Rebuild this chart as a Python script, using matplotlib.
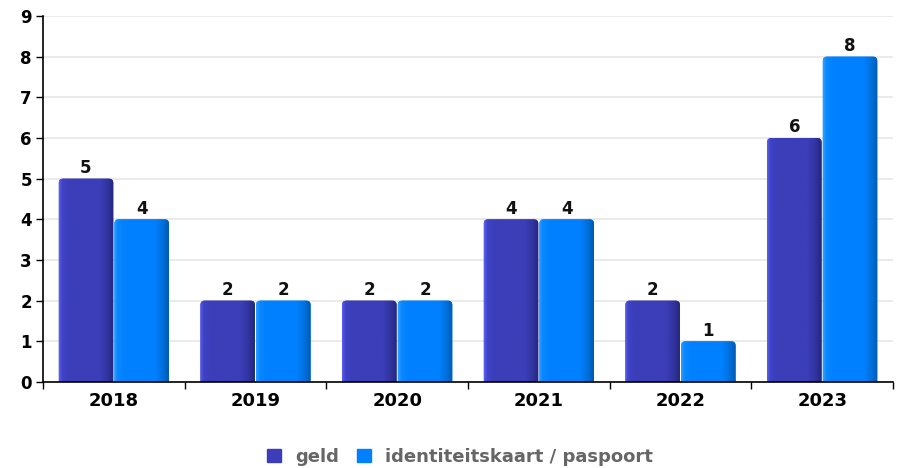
import matplotlib
matplotlib.use("Agg")
import matplotlib.pyplot as plt
import numpy as np
from matplotlib.patches import Rectangle, FancyBboxPatch
from matplotlib.colors import LinearSegmentedColormap

years = ["2018", "2019", "2020", "2021", "2022", "2023"]
geld = [5, 2, 2, 4, 2, 6]
identiteit = [4, 2, 2, 4, 1, 8]
series_names = ["geld", "identiteitskaart / paspoort"]
colors = ["#3b3eb8", "#0080ff"]
shades = [
    ["#5a5df5", "#3f42c4", "#3b3eb8", "#3b3eb8", "#30329c", "#25277a"],
    ["#2aa0ff", "#0a88ff", "#0080ff", "#0080ff", "#006ed8", "#0058b0"],
]

fig = plt.figure(figsize=(9.01, 4.68), dpi=100)
ax = fig.add_axes([43 / 901, 86 / 468, 850 / 901, 366 / 468])

ax.set_xlim(-0.5, len(years) - 0.5)
ax.set_ylim(0, 9)

x = np.arange(len(years))
w = 0.385
gap = 0.004

# horizontal shading profile across a bar
profile_pos = [0.0, 0.06, 0.2, 0.75, 0.9, 1.0]


def draw_bar(xc, h, i):
    left = xc - w / 2
    cmap = LinearSegmentedColormap.from_list(
        f"s{i}", list(zip(profile_pos, shades[i])))
    rx = 0.03
    ry = rx * (9 / 366) / (6 / 850) * 1.0
    patch = FancyBboxPatch((left, -0.3), w, h + 0.3,
                           boxstyle=f"round,pad=0,rounding_size={rx}",
                           mutation_aspect=ry / rx, linewidth=0,
                           facecolor=colors[i], zorder=3)
    ax.add_patch(patch)
    grad = np.linspace(0, 1, 200).reshape(1, -1)
    im = ax.imshow(grad, cmap=cmap, extent=(left, left + w, 0, h),
                   aspect="auto", zorder=4, interpolation="bilinear")
    im.set_clip_path(patch)
    ax.text(xc, h + 0.04, str(h), ha="center", va="bottom", fontsize=12,
            fontweight="bold", color="#111111", zorder=5)


for xi, g, p in zip(x, geld, identiteit):
    draw_bar(xi - w / 2 - gap, g, 0)
    draw_bar(xi + w / 2 + gap, p, 1)

ax.set_xlim(-0.5, len(years) - 0.5)
ax.set_ylim(0, 9)
ax.set_yticks(range(0, 10))
ax.set_yticklabels([str(v) for v in range(0, 10)], fontsize=12, fontweight="bold")
ax.yaxis.grid(True, color="#e6e6e6", lw=1.2, zorder=0)
ax.set_axisbelow(True)

ax.set_xticks(np.arange(-0.5, len(years) + 0.5, 1), minor=False)
ax.set_xticklabels([])
ax.set_xticks(x, minor=True)
ax.set_xticklabels(years, minor=True, fontsize=13, fontweight="bold")
ax.tick_params(axis="x", which="minor", length=0, pad=7)
ax.tick_params(axis="x", which="major", length=5, width=1, direction="out")
ax.tick_params(axis="y", length=5, width=1, pad=3)

for s in ["top", "right"]:
    ax.spines[s].set_visible(False)
ax.spines["left"].set_linewidth(1.2)
ax.spines["bottom"].set_linewidth(1.2)
ax.spines["left"].set_zorder(6)
ax.spines["bottom"].set_zorder(6)

handles = [Rectangle((0, 0), 1, 1, color=c) for c in colors]
leg = fig.legend(handles, series_names, loc="center", bbox_to_anchor=(460 / 901, 1 - 457 / 468),
                 ncol=2, frameon=False, handlelength=0.75, handleheight=0.75,
                 handletextpad=0.8, columnspacing=1.0,
                 prop={"size": 13, "weight": "bold"})
for t in leg.get_texts():
    t.set_color("#666666")

fig.savefig("out.png", dpi=100)
